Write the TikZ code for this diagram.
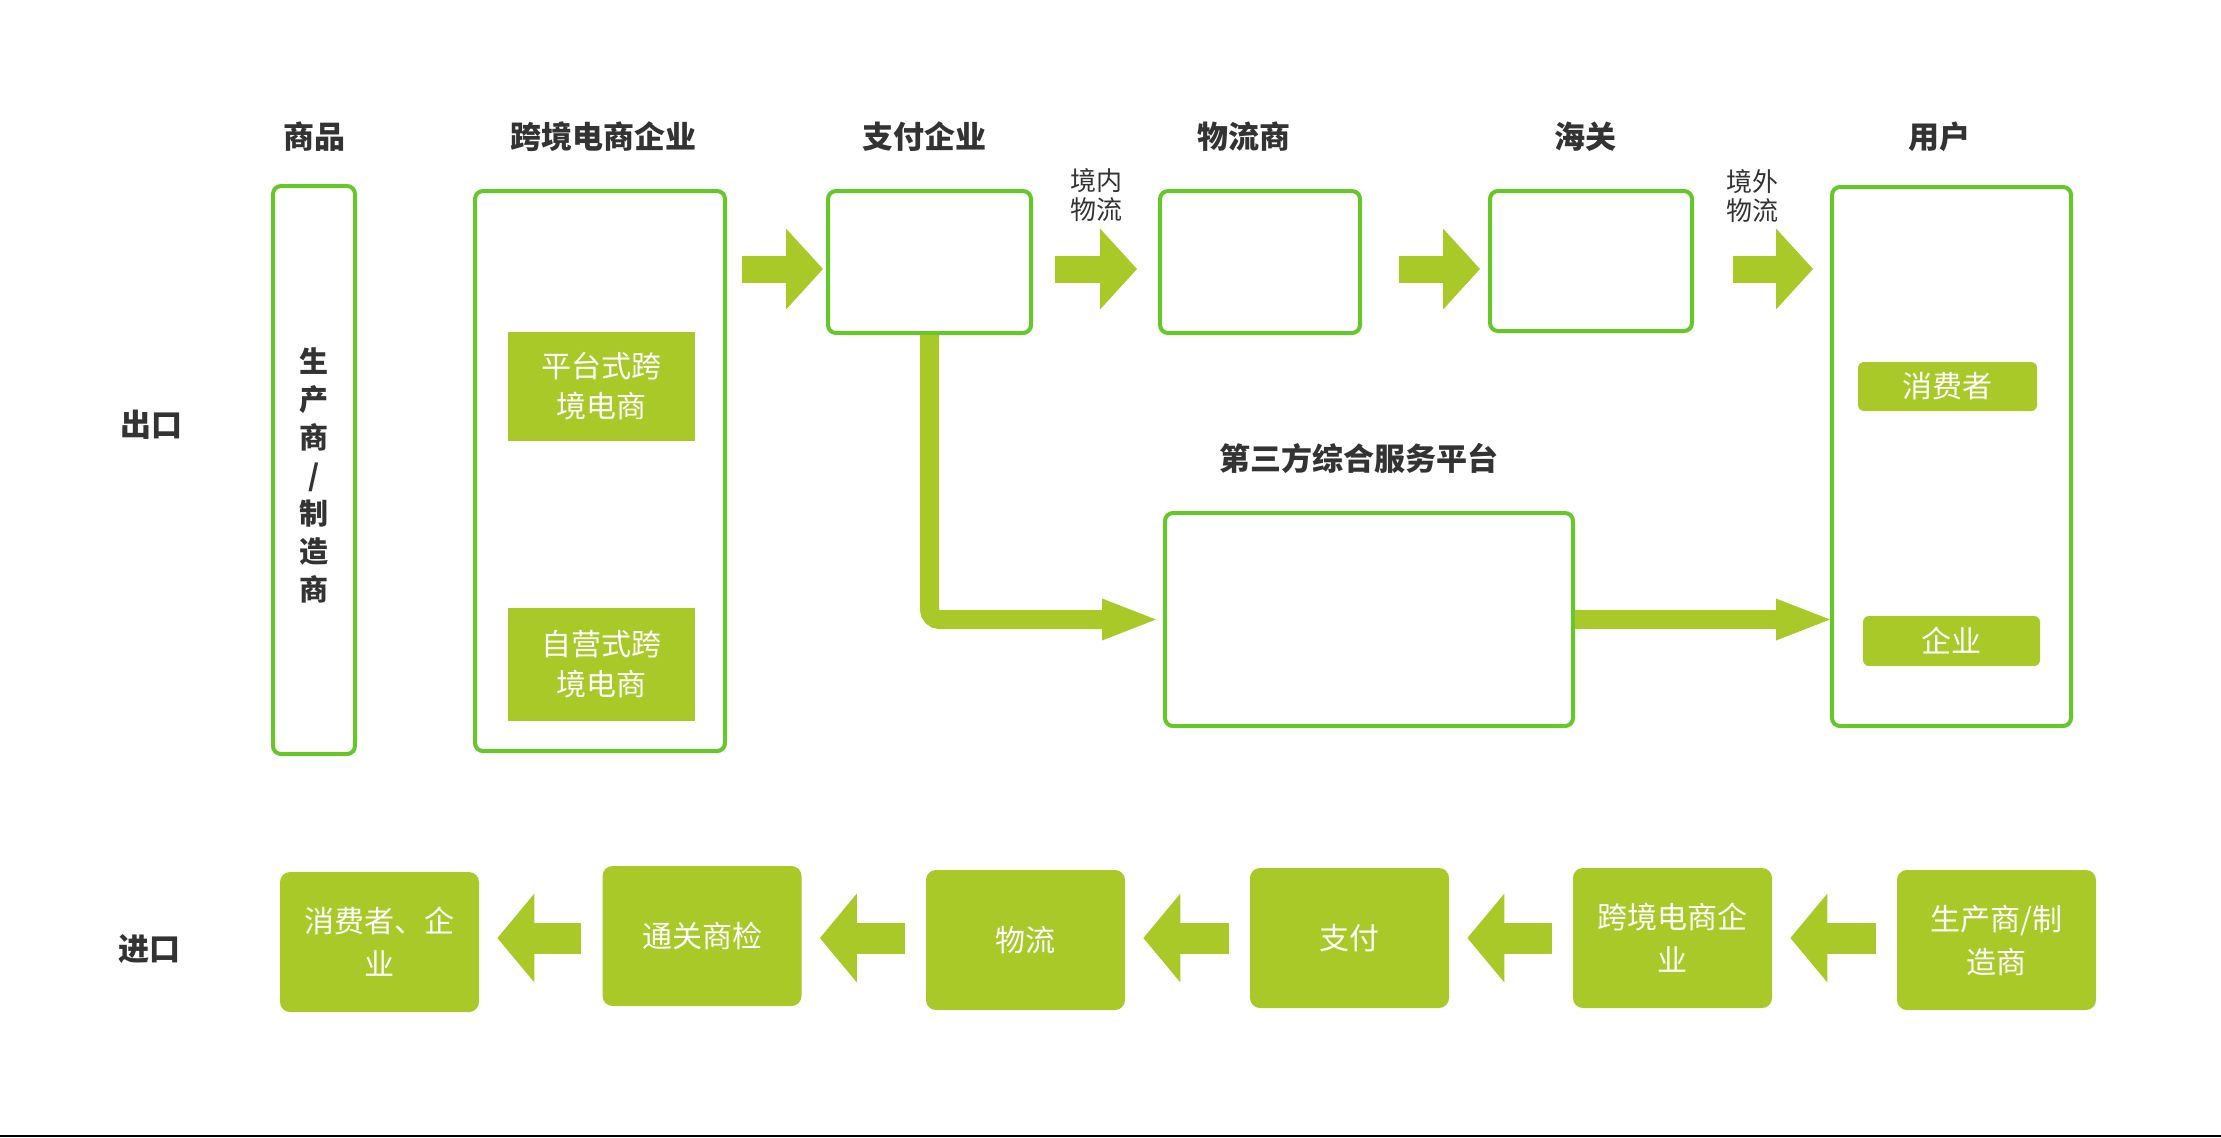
\documentclass[tikz,border=0pt]{standalone}
\usepackage{fontspec}
\setmainfont{Noto Sans CJK SC}
\usetikzlibrary{arrows.meta}
\definecolor{edgegreen}{RGB}{102,200,40}
\definecolor{fillgreen}{RGB}{168,201,40}
\definecolor{darktext}{RGB}{51,51,51}

\begin{document}
\begin{tikzpicture}[x=0.5pt, y=-0.5pt,
    frame/.style={draw=edgegreen, line width=2pt, rounded corners=4pt, fill=white},
    tag/.style={fill=fillgreen, text=white, font=\fontsize{15}{20}\selectfont, align=center, inner sep=0pt},
    block/.style={tag, rounded corners=5pt, minimum width=99.5pt, minimum height=70pt, font=\fontsize{15}{21.5}\selectfont},
    head/.style={text=darktext, font=\bfseries\fontsize{15.5}{18}\selectfont},
    note/.style={text=darktext, font=\fontsize{13}{14.5}\selectfont, align=center},
    flow/.style={draw=fillgreen, line width=13.5pt, -{Triangle[length=18.5pt, width=40.5pt, line width=0pt]}},
    back/.style={draw=fillgreen, line width=15.5pt, shorten <=10.5pt, shorten >=9pt, -{Triangle[length=18.5pt, width=44.5pt, line width=0pt]}},
    link/.style={draw=fillgreen, line width=9.5pt, rounded corners=5pt, -{Triangle[length=27pt, width=21pt, line width=0pt]}}]

  \useasboundingbox (0,0) rectangle (2221,1137);

  \node[head] (hgoods) at (314,137)  {商品};
  \node[head] (hent)   at (603,137)  {跨境电商企业};
  \node[head] (hpay)   at (924,137)  {支付企业};
  \node[head] (hlogi)  at (1244,137) {物流商};
  \node[head] (hcust)  at (1585,137) {海关};
  \node[head] (huser)  at (1939,137) {用户};
  \node[head] (export) at (151,425)  {出口};
  \node[head] (import) at (149,949)  {进口};
  \node[head] (hthird) at (1359,458) {第三方综合服务平台};

  \node[frame, minimum width=41pt,    minimum height=284pt]   (goods) at (314,470)      {};
  \node[frame, minimum width=125pt,   minimum height=280pt]   (ent)   at (600,471)      {};
  \node[frame, minimum width=101.5pt, minimum height=71pt]    (pay)   at (929.5,262)    {};
  \node[frame, minimum width=100pt,   minimum height=71pt]    (logi)  at (1260,262)     {};
  \node[frame, minimum width=101pt,   minimum height=70pt]    (cust)  at (1591,261)     {};
  \node[frame, minimum width=119.5pt, minimum height=269.5pt] (user)  at (1951.5,456.5) {};
  \node[frame, minimum width=204pt,   minimum height=106.5pt] (third) at (1369,619.5)   {};

  \node[head, align=center, font=\bfseries\fontsize{14.5}{19}\selectfont] (maker) at (314,475)
    {生\\产\\商\\/\\制\\造\\商};

  \node[tag, minimum width=93.5pt, minimum height=54.5pt] (plat) at (601.5,386.5) {平台式跨\\境电商};
  \node[tag, minimum width=93.5pt, minimum height=56.5pt] (self) at (601.5,664.5) {自营式跨\\境电商};
  \node[tag, rounded corners=3pt, minimum width=89.5pt, minimum height=24.5pt] (consumer) at (1947.5,386.5) {消费者};
  \node[tag, rounded corners=3pt, minimum width=88.5pt, minimum height=25pt]   (firm)     at (1951.5,641)   {企业};

  \node[note] (inland)   at (1096,195) {境内\\物流};
  \node[note] (overseas) at (1752,196) {境外\\物流};

  \coordinate (row)  at (0,269);
  \coordinate (brow) at (0,938);

  \draw[flow, shorten <=7.5pt,  shorten >=1.5pt]  (ent.east |- row)  -- (pay.west |- row);
  \draw[flow, shorten <=11pt,   shorten >=10.5pt] (pay.east |- row)  -- (logi.west |- row);
  \draw[flow, shorten <=18.5pt, shorten >=4pt]    (logi.east |- row) -- (cust.west |- row);
  \draw[flow, shorten <=19.5pt, shorten >=8.5pt]  (cust.east |- row) -- (user.west |- row);

  \draw[link, shorten >=3.5pt] (pay.south) |- (third.west);
  \draw[link] (third.east) -- (user.west |- third.east);

  \node[block] (b1) at (379.5,942)  {消费者、企\\业};
  \node[block] (b2) at (702,936)    {通关商检};
  \node[block] (b3) at (1025.5,940) {物流};
  \node[block] (b4) at (1349.5,938) {支付};
  \node[block] (b5) at (1672.5,938) {跨境电商企\\业};
  \node[block] (b6) at (1996.5,940) {生产商/制\\造商};

  \draw[back] (b6.west |- brow) -- (b5.east |- brow);
  \draw[back] (b5.west |- brow) -- (b4.east |- brow);
  \draw[back] (b4.west |- brow) -- (b3.east |- brow);
  \draw[back] (b3.west |- brow) -- (b2.east |- brow);
  \draw[back] (b2.west |- brow) -- (b1.east |- brow);

  \draw[line width=1pt] (0,1135.5) -- (2221,1135.5);

\end{tikzpicture}
\end{document}
